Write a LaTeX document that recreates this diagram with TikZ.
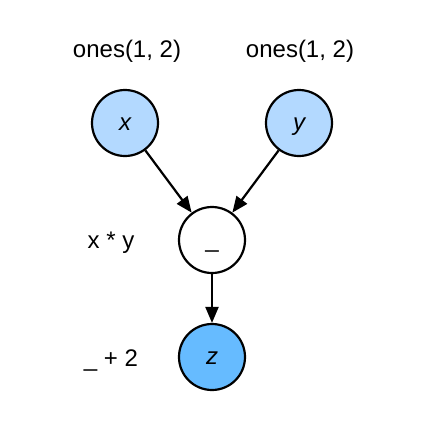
\documentclass[tikz,border=0pt]{standalone}
\usepackage{fontspec}
\setmainfont{Liberation Sans}
\definecolor{varblue}{RGB}{179,217,255}
\definecolor{outblue}{RGB}{102,187,255}
\usetikzlibrary{arrows.meta}

\begin{document}
\begin{tikzpicture}[x=1pt, y=-1pt, every node/.style={font=\fontsize{24}{28}\selectfont},
  var/.style={circle, draw=black, line width=2.2pt, minimum size=66pt, inner sep=0pt, text height=17pt, text depth=3pt},
  lbl/.style={anchor=base, inner sep=0pt},
  edge/.style={line width=2.2pt, -{Triangle[length=16pt, width=13pt]}}]
\useasboundingbox (0,0) rectangle (428,432);
\node[lbl] (xlbl) at (127,57) {ones(1, 2)};
\node[lbl] (ylbl) at (300,57) {ones(1, 2)};
\node[var, fill=varblue] (x) at (125,123) {\itshape x};
\node[var, fill=varblue] (y) at (299,123) {\itshape y};
\node[lbl] (mullbl) at (111,248) {x * y};
\node[var, fill=white] (mul) at (212,240) {\_};
\node[lbl] (addlbl) at (111,366) {\_ + 2};
\node[var, fill=outblue] (z) at (212,357) {\itshape z};
\draw[edge] (x) -- (mul);
\draw[edge] (y) -- (mul);
\draw[edge] (mul) -- (z);
\end{tikzpicture}
\end{document}
